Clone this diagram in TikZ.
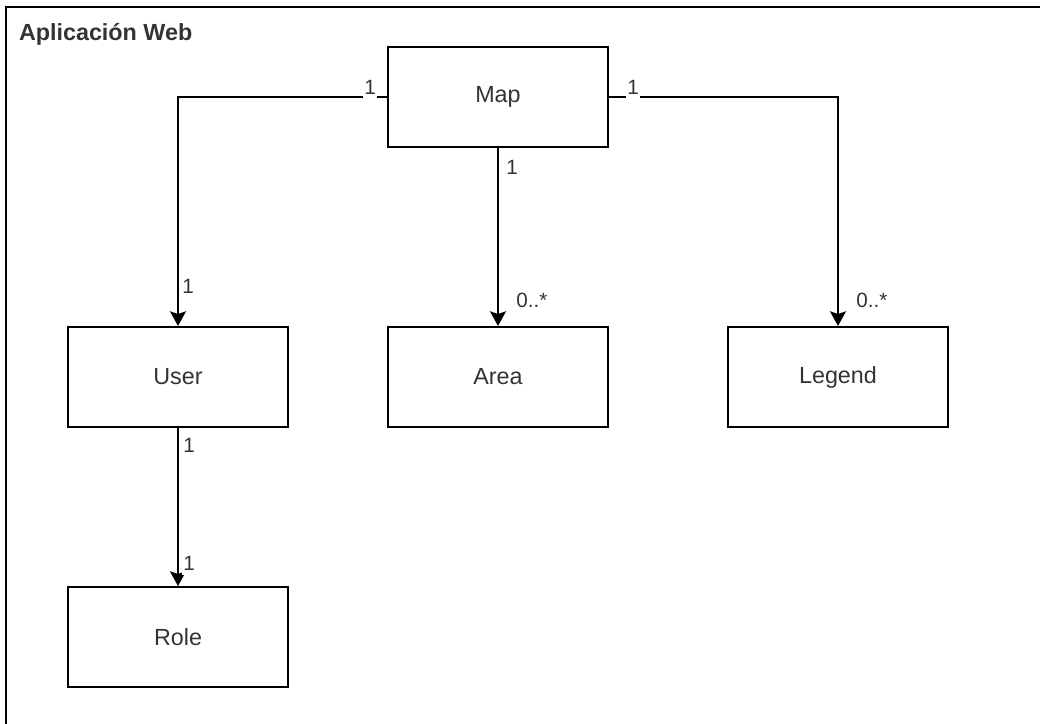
\documentclass[tikz,border=0pt]{standalone}
\usepackage{fontspec}
\setmainfont{Liberation Sans}
\usetikzlibrary{arrows.meta,positioning}

\begin{document}
\begin{tikzpicture}[x=0.75pt,y=-0.75pt,line width=1.5pt,>={Stealth[length=11pt,width=12pt,inset=2pt]},
  clase/.style={draw,minimum width=165pt,minimum height=75pt,text=black!80,font=\fontsize{17.5}{21}\selectfont},
  mult/.style={font=\fontsize{15.5}{19}\selectfont,text=black!80,fill=white,inner sep=1pt,text depth=2.5pt,anchor=base}]
  \useasboundingbox (0,0) rectangle (1040,724);
  % marco de la aplicacion
  \draw[line width=1.8pt] (6,740) -- (6,7) -- (1050,7);
  \node[anchor=base west,inner sep=0pt,text=black!80,font=\bfseries\fontsize{17.5}{21}\selectfont] (titulo) at (18,41) {Aplicación Web};
  % clases
  \node[clase] (map) at (498,97) {Map};
  \node[clase] (user) at (178,377) {User};
  \node[clase] (area) at (498,377) {Area};
  \node[clase] (legend) at (838,377) {Legend};
  \node[clase] (role) at (178,637) {Role};
  % relaciones
  \draw[->] (map.west) -| (user.north);
  \draw[->] (map.south) -- (area.north);
  \draw[->] (map.east) -| (legend.north);
  \draw[->] (user.south) -- (role.north);
  % multiplicidades
  \node[mult] (m1) at ([xshift=-12.75pt,yshift=1.5pt]map.west) {1};
  \node[mult] (m2) at ([xshift=18pt,yshift=1.5pt]map.east) {1};
  \node[mult] (m3) at ([xshift=10.5pt,yshift=-20.25pt]map.south) {1};
  \node[mult] (m4) at ([xshift=7.5pt,yshift=24.75pt]user.north) {1};
  \node[mult,anchor=base west] (m5) at ([xshift=12pt,yshift=14.25pt]area.north) {0..*};
  \node[mult,anchor=base west] (m6) at ([xshift=12pt,yshift=14.25pt]legend.north) {0..*};
  \node[mult] (m7) at ([xshift=8.25pt,yshift=-18pt]user.south) {1};
  \node[mult] (m8) at ([xshift=8.25pt,yshift=12pt]role.north) {1};
\end{tikzpicture}
\end{document}
